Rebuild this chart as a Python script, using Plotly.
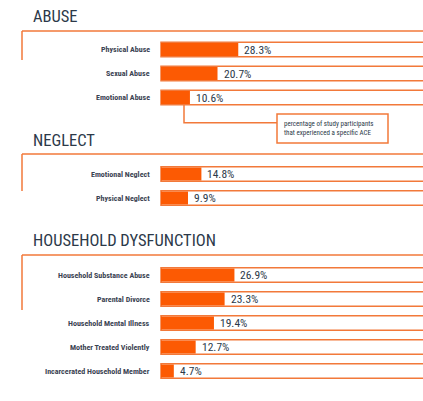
import plotly.graph_objects as go

W, H = 423, 401

sections = ["ABUSE", "NEGLECT", "HOUSEHOLD DYSFUNCTION"]
abuse_labels = ["Physical Abuse", "Sexual Abuse", "Emotional Abuse"]
abuse_values = [28.3, 20.7, 10.6]
neglect_labels = ["Emotional Neglect", "Physical Neglect"]
neglect_values = [14.8, 9.9]
household_labels = ["Household Substance Abuse", "Parental Divorce", "Household Mental Illness",
                    "Mother Treated Violently", "Incarcerated Household Member"]
household_values = [26.9, 23.3, 19.4, 12.7, 4.7]
note_text = "percentage of study participants<br>that experienced a specific ACE"

ORANGE = "#fc5a03"
LINE = "#f2793a"
NAVY = "#2c3949"
LABEL = "#3b4352"
FONT = "Roboto Condensed, Liberation Sans Narrow, DejaVu Sans Condensed, Arial Narrow, Roboto, sans-serif"

# layout (pixel) positions
header_y = [16, 140, 240]
first_row_y = [49.5, 174, 275]
bracket_y = [31, 154, 255]
bracket_bottom = [60, 191, 310]
row_gap = 24
bar_h = 14.5
x0_px = 161
px_per_pct = 2.73

groups = [(abuse_labels, abuse_values), (neglect_labels, neglect_values), (household_labels, household_values)]

labels, values, ys = [], [], []
for (lab, val), y0 in zip(groups, first_row_y):
    for i, (l, v) in enumerate(zip(lab, val)):
        labels.append(l)
        values.append(v)
        ys.append(y0 + i * row_gap)

fig = go.Figure()
fig.add_trace(go.Bar(x=[100] * len(values), y=ys, orientation="h", width=bar_h,
                     marker=dict(color="white", line=dict(color=LINE, width=1.5)),
                     hoverinfo="skip", showlegend=False))
fig.add_trace(go.Bar(x=values, y=ys, orientation="h", width=bar_h - 1.5,
                     marker=dict(color=ORANGE, line=dict(width=0)),
                     text=labels, hovertemplate="%{text}: %{x}%<extra></extra>",
                     textposition="none", showlegend=False))

ann = []
for l, v, y in zip(labels, values, ys):
    ann.append(dict(x=0, y=y, xref="x", yref="y", text=f"<b>{l}</b>", showarrow=False, xanchor="right",
                    xshift=-9, font=dict(family=FONT, size=8, color=LABEL)))
    ann.append(dict(x=v, y=y, xref="x", yref="y", text=f"{v}%", showarrow=False, xanchor="left",
                    xshift=4, font=dict(family=FONT, size=11.5, color=NAVY)))
for s, y in zip(sections, header_y):
    ann.append(dict(x=31 / W, y=y, xref="paper", yref="y", text=s, showarrow=False, xanchor="left",
                    font=dict(family=FONT, size=16.5, color=NAVY)))

ann.append(dict(x=(277 + 5) / W, y=128.5, xref="paper", yref="y", text=note_text, showarrow=False,
                xanchor="left", align="left", font=dict(family=FONT, size=7, color=NAVY)))

shapes = []
for yt, yb in zip(bracket_y, bracket_bottom):
    shapes.append(dict(type="line", xref="paper", yref="y", x0=22 / W, x1=1.05, y0=yt, y1=yt,
                       line=dict(color=LINE, width=1.5)))
    shapes.append(dict(type="line", xref="paper", yref="y", x0=22 / W, x1=22 / W, y0=yt, y1=yb,
                       line=dict(color=LINE, width=1.5)))
# connector from Emotional Abuse bar to note box
cx = 184 / W
shapes.append(dict(type="path", xref="paper", yref="y",
                   path=f"M {cx},{ys[2] + bar_h / 2} L {cx},122.7 L {277 / W},122.7",
                   line=dict(color=LINE, width=1.5)))
shapes.append(dict(type="rect", xref="paper", yref="y", x0=277 / W, x1=388 / W, y0=114, y1=143,
                   line=dict(color=LINE, width=1.5), fillcolor="white", layer="below"))

xmin = -x0_px / px_per_pct
xmax = (W - x0_px) / px_per_pct
fig.update_layout(
    width=W, height=H, margin=dict(l=0, r=0, t=0, b=0),
    paper_bgcolor="white", plot_bgcolor="white", barmode="overlay",
    xaxis=dict(range=[xmin, xmax], visible=False, fixedrange=True),
    yaxis=dict(range=[H, 0], visible=False, fixedrange=True),
    annotations=ann, shapes=shapes,
)
fig.write_html("out.html", config={"displayModeBar": False},
               post_script="document.body.style.margin='0';document.body.style.overflow='hidden';")
